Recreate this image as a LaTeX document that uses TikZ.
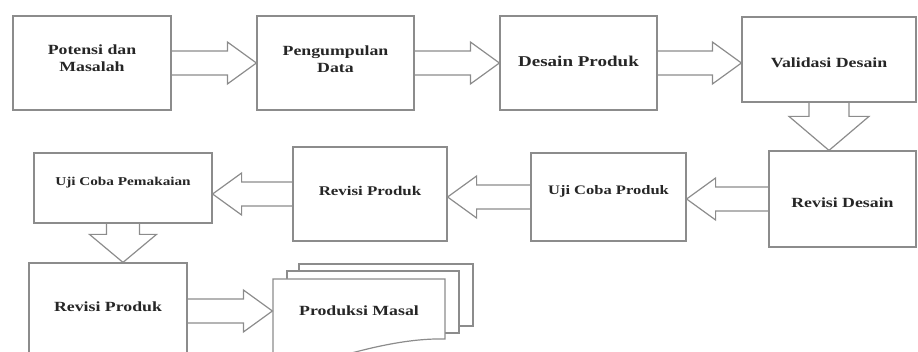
\documentclass[tikz,border=0pt]{standalone}
\usepackage{fontspec}
\setmainfont{Liberation Serif}[FakeStretch=1.27]
\usetikzlibrary{calc}

% block arrow between two anchors, left or right
\newcommand{\flowh}[2]{%
  \draw[blockarr] let \p1=(#1), \p2=(#2), \n1={ifthenelse(\x2>\x1,29,-29)} in
    (\x1,\y1+12) -- (\x2-\n1,\y1+12) -- (\x2-\n1,\y1+21) -- (\x2,\y1)
    -- (\x2-\n1,\y1-21) -- (\x2-\n1,\y1-12) -- (\x1,\y1-12);}
% block arrow downwards: source, target, shaft half, head half, head length
\newcommand{\flowdown}[5]{%
  \draw[blockarr] let \p1=(#1.south), \p2=(#2.north) in
    (\x1-#3,\y1) -- (\x1-#3,\y2+#5) -- (\x1-#4,\y2+#5) -- (\x1,\y2)
    -- (\x1+#4,\y2+#5) -- (\x1+#3,\y2+#5) -- (\x1+#3,\y1);}

\begin{document}
\begin{tikzpicture}[x=1pt,y=-1pt,
  stage/.style={draw=black!45,line width=1.2pt,fill=white,align=center,inner sep=2pt,
    text=black!85,font=\fontsize{#1}{17}\selectfont\bfseries},
  stage/.default=14,
  blockarr/.style={draw=black!45,line width=1.2pt,line join=miter}]
  \clip (0,0) rectangle (918,352);

  \node[stage,minimum width=158,minimum height=94,text depth=10pt] (potensi) at (92,63) {Potensi dan\\Masalah};
  \node[stage,minimum width=157,minimum height=94,text depth=8pt] (data) at (335.5,63) {Pengumpulan\\Data};
  \node[stage=15,minimum width=157,minimum height=94,text depth=4pt] (desain) at (578.5,63) {Desain Produk};
  \node[stage,minimum width=174,minimum height=85,text height=16.5pt] (validasi) at (829,59.5) {Validasi Desain};

  \node[stage,minimum width=147,minimum height=96,text height=17.5pt] (revdesain) at (842.5,199) {Revisi Desain};
  \node[stage=13,minimum width=155,minimum height=88,text depth=14pt] (ujiproduk) at (608.5,197) {Uji Coba Produk};
  \node[stage=13.3,minimum width=154,minimum height=94,text depth=6pt] (revproduk) at (370,194) {Revisi Produk};
  \node[stage=12,minimum width=178,minimum height=70,text depth=13pt] (ujipakai) at (123,188) {Uji Coba Pemakaian};

  \node[stage,minimum width=158,minimum height=96,text depth=8pt] (revakhir) at (108,311) {Revisi Produk};

  % tumpukan dokumen
  \draw[blockarr,fill=white] (299,264) rectangle (473,326);
  \draw[blockarr,fill=white] (287,271) rectangle (459,333);
  \draw[blockarr,fill=white] (273,279) -- (445,279) -- (445,339)
    .. controls (405,338) and (360,350) .. (320,362) -- (273,366) -- cycle;
  \node[stage,draw=none,fill=none,minimum width=172,minimum height=64] (masal) at (359,311) {Produksi Masal};

  \flowh{potensi.east}{data.west}
  \flowh{data.east}{desain.west}
  \flowh{desain.east}{validasi.west}
  \flowdown{validasi}{revdesain}{20}{40}{34}
  \flowh{revdesain.west}{ujiproduk.east}
  \flowh{ujiproduk.west}{revproduk.east}
  \flowh{revproduk.west}{ujipakai.east}
  \flowdown{ujipakai}{revakhir}{16.5}{33.5}{28}
  \flowh{revakhir.east}{masal.west}
\end{tikzpicture}
\end{document}
